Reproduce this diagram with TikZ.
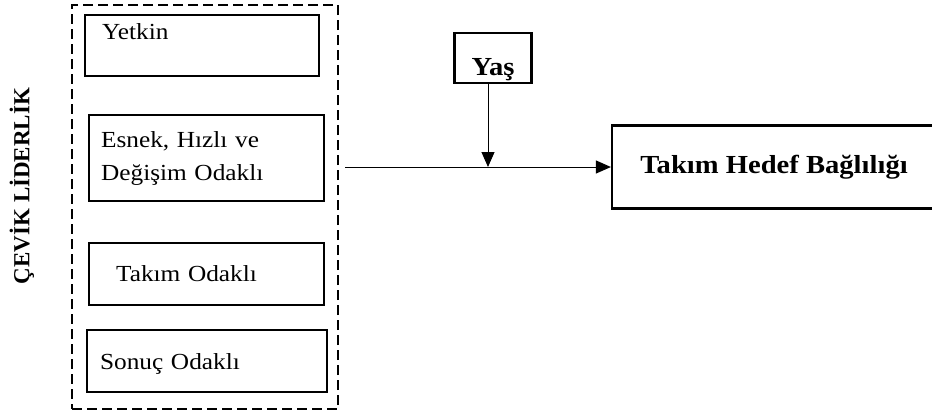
\documentclass[tikz,border=0pt]{standalone}
\usepackage{fontspec}
\setmainfont[FakeStretch=1.1]{Liberation Serif}
\newfontfamily\etiketfont{Liberation Serif}
\usetikzlibrary{positioning}
\usetikzlibrary{arrows.meta}

\begin{document}
\begin{tikzpicture}[x=1pt, y=-1pt,
    kutu/.style = {draw, line width=2.2pt, rectangle, align=left, anchor=north west,
                   font=\fontsize{23}{33}\selectfont},
    kalin/.style = {font=\fontsize{26}{30}\selectfont\bfseries},
    ok/.style = {line width=1pt, -{Triangle[length=15pt, width=13pt]}}]
  \useasboundingbox (0,0) rectangle (932,416);

  % dis cerceve
  \node[draw, line width=2.2pt, dash pattern=on 10pt off 5pt, minimum width=266pt,
        minimum height=404pt, inner sep=0pt] (cerceve) at (205,207) {};
  \node[rotate=90, font=\fontsize{23}{26}\selectfont\etiketfont\bfseries] (baslik) at (22,186)
        {ÇEVİK LİDERLİK};

  % boyutlar
  \node[kutu, inner xsep=17pt, text width=200pt, minimum height=61pt, text depth=28pt] (yetkin)
        at (84,14) {Yetkin};
  \node[kutu, inner xsep=12pt, text width=211pt, minimum height=86pt] (esnek)
        at (88,114) {Esnek, Hızlı ve\\Değişim Odaklı};
  \node[kutu, inner xsep=27pt, text width=181pt, minimum height=62pt] (takim)
        at (88,242) {Takım Odaklı};
  \node[kutu, inner xsep=13pt, text width=214pt, minimum height=62pt, text depth=0pt] (sonuc)
        at (86,329) {Sonuç Odaklı};

  % ara degisken ve sonuc
  \node[draw, line width=2.2pt, kalin, minimum width=77pt, minimum height=50pt,
        text height=40pt, inner sep=0pt] (yas) at (493,58) {Yaş};
  \node[draw, line width=2.2pt, kalin, minimum width=330pt, minimum height=83pt] (hedef)
        at (777,167) {\hspace*{-6pt}Takım Hedef Bağlılığı};

  \coordinate (bas) at (345,167);
  \coordinate (kesisim) at (488,167);
  \draw[ok] (bas) -- (hedef);
  \draw[ok] (yas.south -| kesisim) -- (kesisim);
\end{tikzpicture}
\end{document}
